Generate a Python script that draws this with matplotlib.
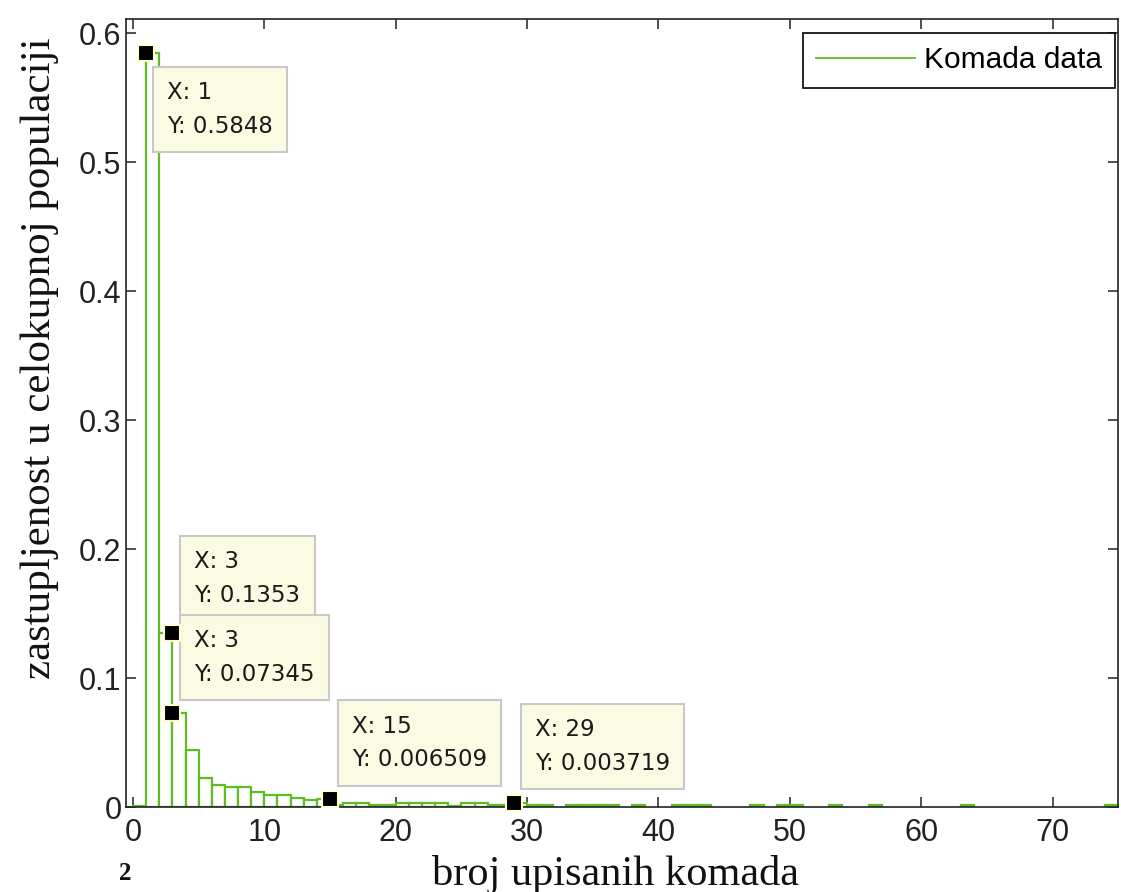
import matplotlib
matplotlib.use("Agg")
import matplotlib.pyplot as plt
from matplotlib.lines import Line2D

# ---- data ----
bin_left = [0, 1, 2, 3, 4, 5, 6, 7, 8, 9, 10, 11, 12, 13, 14,
            15, 16, 17, 18, 19, 20, 21, 22, 23, 24, 25, 26, 27, 28, 29,
            30, 31, 33, 34, 35, 36, 38, 41, 42, 43, 47, 49, 50, 53, 56, 63, 74]
bin_height = [0.0009, 0.5848, 0.1353, 0.07345, 0.0444, 0.0225, 0.0173, 0.0155,
              0.0155, 0.0121, 0.0095, 0.0095, 0.0075, 0.0056, 0.006509,
              0.0019, 0.0031, 0.0036, 0.0018, 0.0018, 0.0031, 0.0031, 0.0031,
              0.0031, 0.0010, 0.0031, 0.0031, 0.0018, 0.0018, 0.003719,
              0.0019, 0.0019, 0.0019, 0.0019, 0.0019, 0.0019, 0.0019, 0.0019,
              0.0019, 0.0019, 0.0019, 0.0019, 0.0019, 0.0019, 0.0019, 0.0019, 0.0019]
tip_x = [1, 3, 3, 15, 29]
tip_y = [0.5848, 0.1353, 0.07345, 0.006509, 0.003719]
x_ticks = [0, 10, 20, 30, 40, 50, 60, 70]
y_ticks = [0, 0.1, 0.2, 0.3, 0.4, 0.5, 0.6]
y_ticklabels = ["0", "0.1", "0.2", "0.3", "0.4", "0.5", "0.6"]
legend_label = "Komada data"
xlabel = "broj upisanih komada"
ylabel = "zastupljenost u celokupnoj populaciji"

# ---- style ----
GREEN = "#5FBC27"
W, H = 1121, 892
fig = plt.figure(figsize=(W / 100, H / 100), dpi=100)
ax_l, ax_r, ax_t, ax_b = 126.4, 1118.2, 19.0, 807.3
ax = fig.add_axes([ax_l / W, (H - ax_b) / H, (ax_r - ax_l) / W, (ax_b - ax_t) / H])

ax.bar(bin_left, bin_height, width=1.0, align="edge", facecolor="white",
       edgecolor=GREEN, linewidth=1.6, zorder=2)

ax.set_xlim(-0.5, 75)
ax.set_ylim(0, 0.611)
ax.set_xticks(x_ticks)
ax.set_xticklabels([str(t) for t in x_ticks])
ax.set_yticks(y_ticks)
ax.set_yticklabels(y_ticklabels)
ax.tick_params(direction="in", length=7.2, width=1.1, top=True, right=True,
               labelsize=22, colors="#222222")
ax.tick_params(axis="x", pad=7.5)
ax.tick_params(axis="y", pad=3.5)
for lab in ax.get_xticklabels() + ax.get_yticklabels():
    lab.set_fontfamily("Liberation Sans")
for s in ax.spines.values():
    s.set_linewidth(1.2)
    s.set_color("#222222")
    s.set_zorder(5)

# data tips
offsets = [(21, -57), (22, 54), (22, 55), (22, 56), (21, 56)]
for (x, y), (dx, dy) in zip(zip(tip_x, tip_y), offsets):
    ax.annotate(f"X: {x}\nY: {y:.4g}", xy=(x, y), xytext=(dx, dy),
                textcoords="offset pixels", ha="left", va="center",
                fontsize=16.5, family="DejaVu Sans", color="#1a1a1a",
                linespacing=1.6,
                bbox=dict(boxstyle="square,pad=0.62", fc="#FBFBE4", ec="#C8C8C8", lw=1.5),
                zorder=6, annotation_clip=False)
ax.plot(tip_x, tip_y, linestyle="none", marker="s", markersize=11.5,
        markerfacecolor="black", markeredgecolor="#FFFFCC", markeredgewidth=1.5,
        zorder=7, clip_on=False)

# legend
h = Line2D([0], [0], color=GREEN, lw=1.3)
leg = ax.legend([h], [legend_label], loc="upper right",
                bbox_to_anchor=(1 - 3.2 / (ax_r - ax_l), 1 - 14 / (ax_b - ax_t)),
                borderaxespad=0, fancybox=False, framealpha=1, edgecolor="black",
                handlelength=3.3, handletextpad=0.3, borderpad=0.45,
                prop={"family": "Liberation Sans", "size": 21.5})
leg.get_frame().set_linewidth(1.2)
leg.set_zorder(8)

# labels
fig.text(616 / W, 1 - 885 / H, xlabel, ha="center", va="baseline",
         family="Liberation Serif", fontsize=30.5, color="#111111")
fig.text(40 / W, 1 - 358 / H, ylabel, ha="center", va="center", rotation=90,
         family="Liberation Serif", fontsize=31, color="#111111")
fig.text(125 / W, 1 - 873 / H, "2", ha="center", va="center",
         family="Liberation Serif", fontweight="bold", fontsize=18, color="#111111")

fig.savefig("out.png", dpi=100)
